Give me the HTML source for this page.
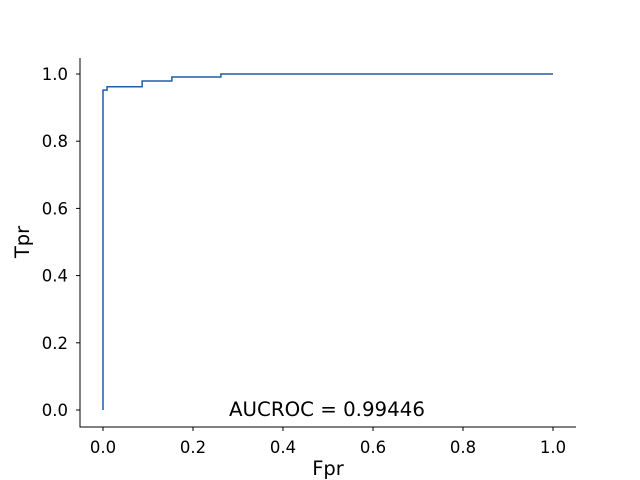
<!DOCTYPE html>
<html><head><meta charset="utf-8"><style>body{margin:0;background:#fff}svg{display:block}text{font-family:"DejaVu Sans","Liberation Sans",sans-serif;fill:#000}</style></head>
<body>
<svg id="chart" width="640" height="480"></svg>
<script>
const fprValues=[0,0,0.009,0.009,0.087,0.087,0.153,0.153,0.262,0.262,1.0];
const tprValues=[0,0.952,0.952,0.962,0.962,0.979,0.979,0.991,0.991,1.0,1.0];
const xTicks=[0,0.2,0.4,0.6,0.8,1.0];
const yTicks=[0,0.2,0.4,0.6,0.8,1.0];
const aucLabel="AUCROC = 0.99446";
const NS="http://www.w3.org/2000/svg";
const svg=document.getElementById('chart');
const X=v=>103+v*450, Y=v=>410-v*336;
function mk(t,a){const e=document.createElementNS(NS,t);for(const k in a)e.setAttribute(k,a[k]);svg.appendChild(e);return e;}
let ax=mk('path',{d:'M80,58V427H576',fill:'none',stroke:'#000','stroke-width':1});


xTicks.forEach(v=>{const t=mk('line',{x1:X(v),x2:X(v),y1:427,y2:431,stroke:'#000'});


const l=mk('text',{x:X(v),y:453,'text-anchor':'middle','font-size':16.5});l.textContent=v.toFixed(1);

});
yTicks.forEach(v=>{const t=mk('line',{x1:76,x2:80,y1:Y(v),y2:Y(v),stroke:'#000'});


const l=mk('text',{x:68,y:Y(v)+6,'text-anchor':'end','font-size':16.5});l.textContent=v.toFixed(1);

});
const d=fprValues.map((f,i)=>(i?'L':'M')+X(f)+','+Y(tprValues[i])).join('');
const line=mk('path',{d:d,fill:'none',stroke:'#1f5fa8','stroke-width':1.5});


const xt=mk('text',{x:328,y:475,'text-anchor':'middle','font-size':19.5});xt.textContent='Fpr';


const yt=mk('text',{x:0,y:0,'text-anchor':'middle','font-size':19.5,transform:'translate(29,242) rotate(-90)'});yt.textContent='Tpr';


const at=mk('text',{x:229,y:416,'text-anchor':'start','font-size':19.8});at.textContent=aucLabel;


</script>
</body></html>
